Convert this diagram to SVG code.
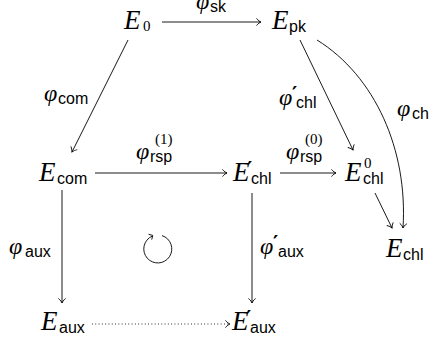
<svg xmlns="http://www.w3.org/2000/svg" width="430" height="345" viewBox="0 0 430 345">
<style>
.m{font-family:"Liberation Serif",serif;font-style:italic;font-size:27px;fill:#000}
.g{font-family:"Liberation Serif",serif;font-style:italic;font-size:24px;fill:#000}
.s{font-family:"Liberation Sans",sans-serif;font-size:16px;fill:#000}
.n{font-family:"Liberation Serif",serif;font-size:15px;fill:#000}
.p{font-family:"DejaVu Sans",sans-serif;font-size:20px;font-weight:bold;fill:#000}
.c{fill:none;stroke:#000;stroke-width:0.9}
.d{fill:none;stroke:#000;stroke-width:0.9;stroke-dasharray:0.9 2.4}
</style>
<defs>
<marker id="ah" markerUnits="userSpaceOnUse" viewBox="-6 -5 7 10" refX="0" refY="0" markerWidth="7" markerHeight="10" orient="auto" overflow="visible">
<path d="M-4.5,-3.6 C-3,-1.5 -1,-0.4 0,0 C-1,0.4 -3,1.5 -4.5,3.6" fill="none" stroke="#000" stroke-width="0.9"/>
</marker>
</defs>
<g id="connectors">
<line class="c" x1="162" y1="22" x2="261" y2="22" marker-end="url(#ah)"/>
<line class="c" x1="128" y1="40" x2="72" y2="152" marker-end="url(#ah)"/>
<line class="c" x1="300" y1="40" x2="353" y2="150" marker-end="url(#ah)"/>
<path class="c" d="M317,40 C375,76 408,150 403,228" marker-end="url(#ah)"/>
<line class="c" x1="95" y1="173" x2="227" y2="173" marker-end="url(#ah)"/>
<line class="c" x1="280" y1="173" x2="336" y2="173" marker-end="url(#ah)"/>
<line class="c" x1="375" y1="193" x2="392" y2="228" marker-end="url(#ah)"/>
<line class="c" x1="62" y1="190" x2="62" y2="303" marker-end="url(#ah)"/>
<line class="c" x1="252" y1="193" x2="252" y2="303" marker-end="url(#ah)"/>
<line class="d" x1="92" y1="324" x2="230" y2="324"/>
<path d="M225.5,320.4 C227,322.5 229,323.6 230,324 C229,324.4 227,325.5 225.5,327.6" fill="none" stroke="#000" stroke-width="0.9"/>
</g>
<g id="E0"><text class="m" x="124" y="29">E</text><text class="n" x="143" y="31">0</text></g>
<g id="Epk"><text class="m" x="272" y="29">E</text><text class="s" x="289" y="32">pk</text></g>
<g id="Ecom"><text class="m" x="39" y="181">E</text><text class="s" x="57" y="184">com</text></g>
<g id="Echl1"><text class="m" x="233" y="181">E</text><text class="p" x="247" y="175">′</text><text class="s" x="251" y="184">chl</text></g>
<g id="Echl0"><text class="m" x="345" y="181">E</text><text class="n" x="364" y="168">0</text><text class="s" x="363" y="184">chl</text></g>
<g id="Echl"><text class="m" x="386" y="257">E</text><text class="s" x="403" y="260">chl</text></g>
<g id="Eaux"><text class="m" x="41" y="330">E</text><text class="s" x="59" y="333">aux</text></g>
<g id="Eaux1"><text class="m" x="232" y="330">E</text><text class="p" x="246" y="324">′</text><text class="s" x="250" y="333">aux</text></g>
<g id="labels">
<text class="g" x="196" y="9">φ</text><text class="s" x="210" y="12">sk</text>
<text class="g" x="44" y="101">φ</text><text class="s" x="58" y="104">com</text>
<text class="g" x="136" y="159">φ</text><text class="s" x="150" y="162">rsp</text><text class="n" x="155" y="144">(1)</text>
<text class="g" x="286" y="159">φ</text><text class="s" x="300" y="162">rsp</text><text class="n" x="305" y="144">(0)</text>
<text class="g" x="279" y="105">φ</text><text class="p" x="292" y="100">′</text><text class="s" x="296" y="108">chl</text>
<text class="g" x="397" y="116">φ</text><text class="s" x="412" y="119">ch</text>
<text class="g" x="9" y="254">φ</text><text class="s" x="25" y="257">aux</text>
<text class="g" x="260" y="254">φ</text><text class="p" x="273" y="249">′</text><text class="s" x="278" y="257">aux</text>
</g>
<g id="commutes">
<path class="c" d="M162,235.6 A14,14 0 1 1 152,236.2"/>
<path d="M148.5,234.3 L152.8,235.4 L151.7,239.6" fill="none" stroke="#000" stroke-width="0.9"/>
</g>
</svg>
